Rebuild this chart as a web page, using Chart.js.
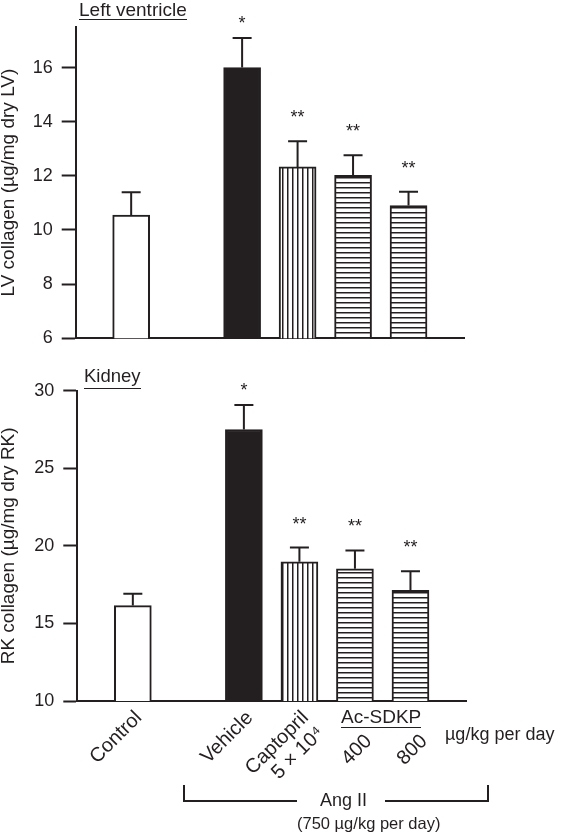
<!DOCTYPE html>
<html>
<head>
<meta charset="utf-8">
<script src="https://cdn.jsdelivr.net/npm/chart.js@4.4.1/dist/chart.umd.min.js"></script>
<style>
  body { margin: 0; background: #fff; }
  #wrap { position: relative; width: 563px; height: 838px; background: #fff; overflow: hidden;
          font-family: 'Liberation Sans', Arial, sans-serif; color: #231f20; }
  canvas { position: absolute; left: 0; }
  .lbl { position: absolute; white-space: nowrap; line-height: 18px; font-size: 18px; }
  .ul { border-bottom: 1.5px solid #231f20; }
  .ln { position: absolute; background: #231f20; }
</style>
</head>
<body>
<div id="wrap">
  <canvas id="lvChart" width="563" height="358" style="top:0"></canvas>
  <canvas id="rkChart" width="563" height="488" style="top:350px"></canvas>

  <div class="lbl ul" style="left:79px;top:1px;font-size:19px;">Left ventricle</div>
  <div class="lbl ul" style="left:84px;top:367px;padding-bottom:3px;font-size:18.5px;">Kidney</div>

  <div class="lbl ul" style="left:341px;top:708px;font-size:19px;padding-bottom:1px;">Ac-SDKP</div>
  <div class="lbl" style="left:445px;top:725px;">µg/kg per day</div>

  <!-- Ang II bracket -->
  <div class="ln" style="left:183px;top:785px;width:2px;height:17px;"></div>
  <div class="ln" style="left:183px;top:800px;width:114px;height:2px;"></div>
  <div class="ln" style="left:385px;top:800px;width:104px;height:2px;"></div>
  <div class="ln" style="left:487px;top:785px;width:2px;height:17px;"></div>
  <div class="lbl" style="left:320px;top:791px;">Ang II</div>
  <div class="lbl" style="left:297px;top:814px;font-size:16.5px;">(750 µg/kg per day)</div>
</div>

<script>
// ── Data ──────────────────────────────────────────────────────────────────────
// 400 / 800 carry an empty first line so they sit under the Ac-SDKP heading
const categories = ['', 'Control', '', 'Vehicle', ['Captopril', '5 × 10⁴'], ['', '400  '], ['', '800  '], ''];
const stars      = ['', '', '', '*', '**', '**', '**', ''];

const lvMean  = [null, 10.55, null, 16.0, 12.33, 12.02, 10.9, null];
const lvSem   = [null, 0.84,  null, 1.09, 0.95,  0.74,  0.51, null];
const lvTicks = [6, 8, 10, 12, 14, 16];

const rkMean  = [null, 16.15, null, 27.5, 18.97, 18.52, 17.14, null];
const rkSem   = [null, 0.76,  null, 1.58, 0.92,  1.18,  1.23, null];
const rkTicks = [10, 15, 20, 25, 30];

// ── Style ─────────────────────────────────────────────────────────────────────
const INK = '#231f20';
const FONT = "'Liberation Sans', Arial, sans-serif";
Chart.defaults.font.family = FONT;
Chart.defaults.color = INK;

function hatch(dir) {
    const c = document.createElement('canvas');
    c.width = 5; c.height = 5;
    const g = c.getContext('2d');
    g.fillStyle = '#fff';
    g.fillRect(0, 0, 5, 5);
    g.fillStyle = INK;
    if (dir === 'v') g.fillRect(2, 0, 1.5, 5);
    else g.fillRect(0, 2, 5, 1.5);
    return g.createPattern(c, 'repeat');
}
const fills = [null, '#fff', null, INK, hatch('v'), hatch('h'), hatch('h'), null];

// ── Error bars + significance stars ───────────────────────────────────────────
const errorBars = {
    id: 'errorBars',
    afterDatasetsDraw(chart, args, opts) {
        const { ctx } = chart;
        const y = chart.scales.y;
        const meta = chart.getDatasetMeta(0);
        const vals = chart.data.datasets[0].data;
        ctx.save();
        ctx.strokeStyle = INK;
        ctx.fillStyle = INK;
        ctx.lineWidth = 2;
        ctx.font = `18px ${FONT}`;
        ctx.textAlign = 'center';
        ctx.textBaseline = 'middle';
        opts.sem.forEach((s, i) => {
            if (vals[i] == null) return;
            const bar = meta.data[i];
            const top = y.getPixelForValue(vals[i] + s);
            ctx.beginPath();
            ctx.moveTo(bar.x, bar.y);
            ctx.lineTo(bar.x, top);
            ctx.moveTo(bar.x - 9.5, top);
            ctx.lineTo(bar.x + 9.5, top);
            ctx.stroke();
            const st = opts.stars[i];
            if (st) ctx.fillText(st, bar.x, top - (st.length > 1 ? 23 : 14));
        });
        ctx.restore();
    }
};

// ── Panels ────────────────────────────────────────────────────────────────────
function makePanel(id, p) {
    return new Chart(document.getElementById(id), {
        type: 'bar',
        data: {
            labels: categories,
            datasets: [{
                data: p.mean,
                backgroundColor: fills,
                borderColor: INK,
                borderWidth: 2,
                borderSkipped: false,
                barThickness: 37
            }]
        },
        plugins: [errorBars],
        options: {
            responsive: false,
            animation: false,
            devicePixelRatio: 1,
            layout: { padding: { left: 0, right: p.right, top: p.top, bottom: 0 } },
            plugins: {
                legend: { display: false },
                tooltip: { enabled: false },
                errorBars: { sem: p.sem, stars: stars }
            },
            scales: {
                x: {
                    type: 'category',
                    offset: false,
                    grid: { display: false },
                    border: { display: true, color: INK, width: 2 },
                    ticks: {
                        display: p.showX,
                        autoSkip: false,
                        minRotation: 45, maxRotation: 45,
                        padding: -2,
                        labelOffset: 6,
                        color: INK,
                        font: { size: 20, lineHeight: 1.1 }
                    },
                    afterFit: s => { s.height = p.xHeight; }
                },
                y: {
                    min: p.ticks[0], max: p.max,
                    afterBuildTicks: s => { s.ticks = p.ticks.map(v => ({ value: v })); },
                    grid: { drawOnChartArea: false, tickLength: 14, tickWidth: 2, tickColor: INK },
                    border: { color: INK, width: 2 },
                    ticks: { padding: 9, color: INK, font: { size: 18 } },
                    title: {
                        display: true, text: p.title, color: INK,
                        padding: 0, font: { size: 19, lineHeight: 0.9 }
                    },
                    afterFit: s => { s.width = p.left; }
                }
            }
        }
    });
}

makePanel('lvChart', {
    mean: lvMean, sem: lvSem, ticks: lvTicks, max: 17.5,
    title: 'LV collagen (µg/mg dry LV)',
    left: 75.7, right: 99, top: 27, xHeight: 13.3, showX: false
});
makePanel('rkChart', {
    mean: rkMean, sem: rkSem, ticks: rkTicks, max: 30,
    title: 'RK collagen (µg/mg dry RK)',
    left: 77.3, right: 97, top: 40.7, xHeight: 137, showX: true
});
</script>
</body>
</html>
